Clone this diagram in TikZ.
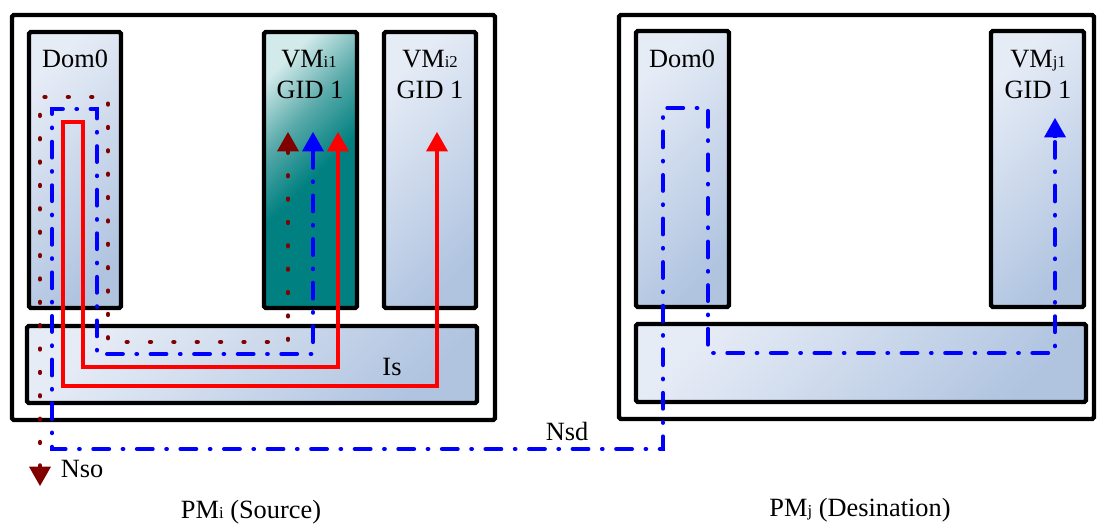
\documentclass[tikz,border=0pt]{standalone}
\usepackage{fontspec}
\setmainfont{Liberation Serif}
\usetikzlibrary{arrows.meta,fit}

\definecolor{paneltop}{RGB}{230,236,246}
\definecolor{panelbot}{RGB}{176,196,224}
\definecolor{tealtop}{RGB}{210,234,234}
\definecolor{tealmid}{RGB}{90,170,170}
\definecolor{tealbot}{RGB}{0,128,128}
\definecolor{dotred}{RGB}{128,0,0}

\pgfdeclareverticalshading{tealfade}{100bp}{%
  color(0bp)=(tealbot); color(48bp)=(tealbot); color(62bp)=(tealmid);
  color(76bp)=(tealtop); color(100bp)=(tealtop)}

\newcommand\smallsub[1]{{\fontsize{9.5}{10}\selectfont #1}}

\tikzset{
  ptr/.tip={Triangle[width=12.5pt,length=11pt,line width=0pt,round=false]},
  frame/.style={draw=black,line width=2.5pt,rounded corners=1pt,inner sep=0pt},
  pmframe/.style={frame,fill=white},
  panel/.style={frame,shading=axis,top color=paneltop,bottom color=panelbot,shading angle=45},
  tealpanel/.style={frame,shading=tealfade,shading angle=45},
  redpath/.style={draw=red,line width=2.4pt,miter limit=10,ptr-ptr},
  bluepath/.style={draw=blue,line width=2.3pt,line cap=round,dash pattern=on 9pt off 7.7pt on 0.4pt off 7.7pt},
  dotpath/.style={draw=dotred,line width=2.6pt,line cap=round,dash pattern=on 0.4pt off 12.9pt},
  bluetip/.style={draw=blue,line width=2.3pt,-ptr},
  dottip/.style={draw=dotred,line width=2.6pt,-ptr},
  label/.style={anchor=base,inner sep=0pt,font=\fontsize{15}{16}\selectfont}
}

\begin{document}
\begin{tikzpicture}[x=0.02cm,y=-0.02cm]
\useasboundingbox (0,0) rectangle (1097,525);

% ---- source physical machine ----
\node[pmframe,fit={(12,15) (495,420)}] (pmi) {};
\node[panel,fit={(29,32) (121,308)}] (domi) {};
\node[tealpanel,fit={(264,32) (357,308)}] (vmi1) {};
\node[panel,fit={(384,32) (476,308)}] (vmi2) {};
\node[panel,fit={(27,326) (477,403)}] (bari) {};

% ---- destination physical machine ----
\node[pmframe,fit={(619,15) (1094,419)}] (pmj) {};
\node[panel,fit={(636,31) (729,307)}] (domj) {};
\node[panel,fit={(991,31) (1084,307)}] (vmj1) {};
\node[panel,fit={(636,324) (1086,402)}] (barj) {};

% ---- labels ----
\node[label] (tdomi) at (75,67) {Dom0};
\node[label] (tvmi1) at (309,67) {VM\smallsub{i1}};
\node[label] (tgidi1) at (310,98) {GID 1};
\node[label] (tvmi2) at (430,67) {VM\smallsub{i2}};
\node[label] (tgidi2) at (430,98) {GID 1};
\node[label] (tdomj) at (682,67) {Dom0};
\node[label] (tvmj1) at (1038,67) {VM\smallsub{j1}};
\node[label] (tgidj1) at (1038,98) {GID 1};
\node[label] (tis) at (392,375) {Is};
\node[label] (tnsd) at (567,440) {Nsd};
\node[label] (tnso) at (82,477) {Nso};
\node[label] (tpmi) at (251,518) {PM\smallsub{i} (Source)};
\node[label] (tpmj) at (860,516) {PM\smallsub{j} (Desination)};

% ---- end points of the traffic paths ----
\coordinate (redA) at (338,132);
\coordinate (redB) at (437,132);
\coordinate (blueA) at (313,132);
\coordinate (blueA0) at (313,152);
\coordinate (blueB) at (1055,118);
\coordinate (blueB0) at (1055,138);
\coordinate (dotA) at (288,132);
\coordinate (dotA0) at (288,152);
\coordinate (dotB) at (40,486);
\coordinate (dotB0) at (40,466);

% intra-host traffic through Dom0 and Is
\draw[redpath] (redA) -- (338,367) -- (83,367) -- (83,122) -- (63,122)
  -- (63,386) -- (437,386) -- (redB);

% migration traffic from source VM to destination VM
\draw[bluepath] (blueA0) -- (313,354) -- (97,354) -- (97,109) -- (52,109)
  -- (52,449) -- (663,449) -- (663,108) -- (708,108) -- (708,353)
  -- (1055,353) -- (blueB0);
\draw[bluetip] (blueA0) -- (blueA);
\draw[bluetip] (blueB0) -- (blueB);

% outbound traffic
\draw[dotpath] (dotA0) -- (288,342) -- (108,342) -- (108,97) -- (40,97) -- (dotB0);
\draw[dottip] (dotA0) -- (dotA);
\draw[dottip] (dotB0) -- (dotB);
\end{tikzpicture}
\end{document}
